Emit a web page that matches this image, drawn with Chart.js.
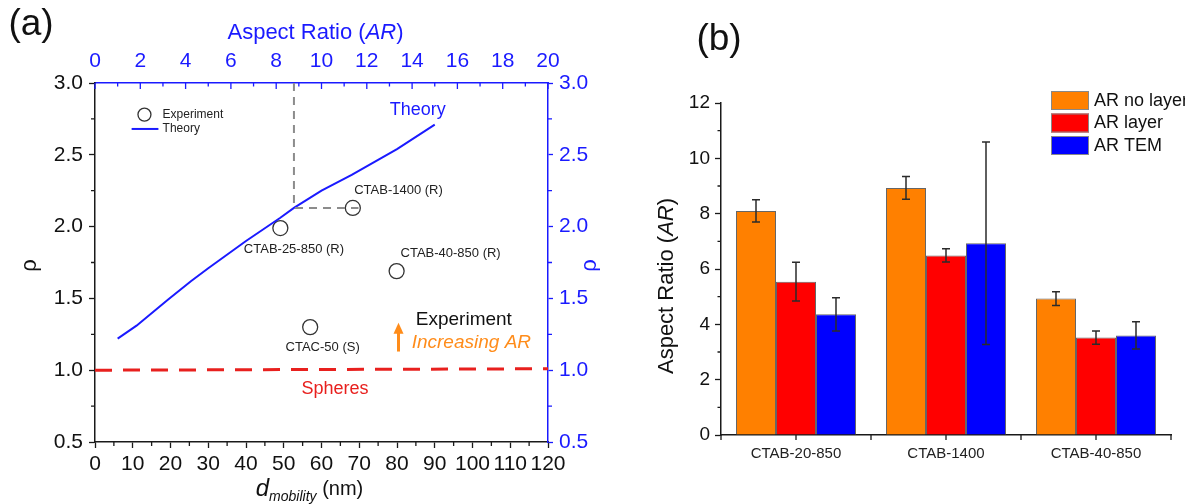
<!DOCTYPE html>
<html>
<head>
<meta charset="utf-8">
<script src="https://cdn.jsdelivr.net/npm/chart.js@4"></script>
<style>
  html, body { margin: 0; padding: 0; background: #fff; }
  #wrap { position: relative; width: 1185px; height: 504px; overflow: hidden; }
  canvas { position: absolute; top: 0; }
  #chartA { left: 0; }
  #chartB { left: 600px; }
</style>
</head>
<body>
<div id="wrap">
  <canvas id="chartA" width="600" height="504"></canvas>
  <canvas id="chartB" width="585" height="504"></canvas>
</div>
<script>
// ---- panel (a) data ----
const theoryD = [6, 11, 19.3, 25.4, 30, 40, 49, 52.7, 60, 68, 80, 90];
const theoryRho = [1.22, 1.31, 1.49, 1.62, 1.71, 1.9, 2.06, 2.13, 2.25, 2.36, 2.54, 2.71];
const expNames = ["CTAB-25-850 (R)", "CTAB-1400 (R)", "CTAB-40-850 (R)", "CTAC-50 (S)"];
const expD = [49.1, 68.3, 79.9, 57];
const expRho = [1.99, 2.13, 1.69, 1.3];
const sphereD = [0, 120];
const sphereRho = [1.0, 1.01];
const guideD = [52.7, 52.7, 69.8];
const guideRho = [3.0, 2.13, 2.13];
const arMin = 0, arMax = 20;

// ---- panel (b) data ----
const samples = ["CTAB-20-850", "CTAB-1400", "CTAB-40-850"];
const arNoLayer = [8.1, 8.93, 4.93];
const arNoLayerErr = [0.4, 0.41, 0.25];
const arLayer = [5.54, 6.49, 3.52];
const arLayerErr = [0.7, 0.24, 0.24];
const arTem = [4.36, 6.93, 3.6];
const arTemErr = [0.6, 3.66, 0.49];

const FONT = 'Arial, "Liberation Sans", Helvetica, sans-serif';
const BLUE = "#1a1aff";
const INK = "#1a1a1a";

function pts(xs, ys) { return xs.map((x, i) => ({ x: x, y: ys[i] })); }

function richText(ctx, parts, x, y, rot, align) {
  ctx.save();
  ctx.translate(x, y);
  if (rot) ctx.rotate(rot);
  let total = 0;
  parts.forEach(p => {
    ctx.font = (p.style || "") + " " + p.size + "px " + FONT;
    p.w = ctx.measureText(p.text).width;
    total += p.w;
  });
  let cx = align === "left" ? 0 : -total / 2;
  ctx.textBaseline = "middle";
  ctx.textAlign = "left";
  parts.forEach(p => {
    ctx.font = (p.style || "") + " " + p.size + "px " + FONT;
    ctx.fillStyle = p.color;
    ctx.fillText(p.text, cx, p.dy || 0);
    cx += p.w;
  });
  ctx.restore();
}

function tickMarks(ctx, scale, values, len, dir, color) {
  ctx.save();
  ctx.strokeStyle = color;
  ctx.lineWidth = 1.3;
  ctx.beginPath();
  values.forEach(v => {
    const p = scale.getPixelForValue(v);
    if (scale.isHorizontal()) {
      const y0 = scale.position === "bottom" ? scale.top : scale.bottom;
      ctx.moveTo(p, y0); ctx.lineTo(p, y0 + dir * len);
    } else {
      const x0 = scale.position === "left" ? scale.right : scale.left;
      ctx.moveTo(x0, p); ctx.lineTo(x0 + dir * len, p);
    }
  });
  ctx.stroke();
  ctx.restore();
}

function range(a, b, step) { const r = []; for (let v = a; v <= b + 1e-9; v += step) r.push(+v.toFixed(4)); return r; }

// labels placed in data space of panel (a)
const notesA = [
  { text: expNames[0], d: 52.7, rho: 1.84, size: 13, color: "#222" },
  { text: expNames[1], d: 80.4, rho: 2.25, size: 13, color: "#222" },
  { text: expNames[2], d: 94.2, rho: 1.81, size: 13, color: "#222" },
  { text: expNames[3], d: 60.3, rho: 1.16, size: 13, color: "#222" },
  { text: "Theory", d: 85.5, rho: 2.81, size: 18, color: BLUE },
  { text: "Spheres", d: 63.6, rho: 0.87, size: 18, color: "#e8201e" },
  { text: "Experiment", d: 97.7, rho: 1.35, size: 19, color: "#111" },
  { text: "Increasing AR", d: 99.7, rho: 1.19, size: 19, color: "#ff8c1a", style: "italic" }
];

const decorA = {
  id: "decorA",
  afterDraw(chart) {
    const ctx = chart.ctx;
    const sx = chart.scales.x, sy = chart.scales.y, st = chart.scales.xTop, sr = chart.scales.yRight;
    // minor ticks
    tickMarks(ctx, sx, range(5, 115, 10), 4, 1, INK);
    tickMarks(ctx, sy, range(0.75, 2.75, 0.5), 4, -1, INK);
    tickMarks(ctx, sr, range(0.75, 2.75, 0.5), 4, 1, BLUE);
    tickMarks(ctx, st, range(arMin, arMax, 2), 6, 1, BLUE);
    tickMarks(ctx, st, range(1, 19, 2), 3.5, 1, BLUE);

    // annotations
    notesA.forEach(n => {
      richText(ctx, [{ text: n.text, size: n.size, color: n.color, style: n.style }],
        sx.getPixelForValue(n.d), sy.getPixelForValue(n.rho));
    });

    // orange arrow
    const ax = sx.getPixelForValue(80.4);
    const y0 = sy.getPixelForValue(1.13), y1 = sy.getPixelForValue(1.33);
    ctx.save();
    ctx.strokeStyle = "#ff8c1a"; ctx.fillStyle = "#ff8c1a"; ctx.lineWidth = 3;
    ctx.beginPath(); ctx.moveTo(ax, y0); ctx.lineTo(ax, y1 + 8); ctx.stroke();
    ctx.beginPath(); ctx.moveTo(ax, y1); ctx.lineTo(ax - 5, y1 + 11); ctx.lineTo(ax + 5, y1 + 11); ctx.closePath(); ctx.fill();
    ctx.restore();

    // inset legend
    const lx = sx.getPixelForValue(13.1), ly = sy.getPixelForValue(2.78);
    ctx.save();
    ctx.strokeStyle = "#333"; ctx.lineWidth = 1.3;
    ctx.beginPath(); ctx.arc(lx, ly, 6.5, 0, Math.PI * 2); ctx.stroke();
    const ly2 = sy.getPixelForValue(2.68);
    ctx.strokeStyle = BLUE; ctx.lineWidth = 2;
    ctx.beginPath(); ctx.moveTo(sx.getPixelForValue(9.7), ly2); ctx.lineTo(sx.getPixelForValue(16.8), ly2); ctx.stroke();
    ctx.restore();
    const tx = sx.getPixelForValue(17.9);
    richText(ctx, [{ text: "Experiment", size: 12, color: "#222" }], tx, ly, 0, "left");
    richText(ctx, [{ text: "Theory", size: 12, color: "#222" }], tx, ly2, 0, "left");

    // axis titles
    const midX = (chart.chartArea.left + chart.chartArea.right) / 2;
    const midY = (chart.chartArea.top + chart.chartArea.bottom) / 2;
    richText(ctx, [
      { text: "Aspect Ratio (", size: 22, color: BLUE },
      { text: "AR", size: 22, color: BLUE, style: "italic" },
      { text: ")", size: 22, color: BLUE }
    ], midX - 6, 33);
    richText(ctx, [
      { text: "d", size: 24, color: "#111", style: "italic" },
      { text: "mobility", size: 14, color: "#111", style: "italic", dy: 8 },
      { text: " (nm)", size: 20, color: "#111" }
    ], midX - 12, 489);
    richText(ctx, [{ text: "ρ", size: 22, color: "#111" }], 30, midY + 3, -Math.PI / 2);
    richText(ctx, [{ text: "ρ", size: 22, color: BLUE }], 590, midY + 3, -Math.PI / 2);
    richText(ctx, [{ text: "(a)", size: 37, color: "#111" }], 31, 25);
  }
};

new Chart(document.getElementById("chartA"), {
  type: "scatter",
  data: {
    datasets: [
      {
        label: "Spheres",
        data: pts(sphereD, sphereRho),
        showLine: true, borderColor: "#e8201e", borderWidth: 3, borderDash: [17, 11],
        pointRadius: 0
      },
      {
        label: "Guide",
        data: pts(guideD, guideRho),
        showLine: true, borderColor: "#8c8c8c", borderWidth: 2, borderDash: [8, 6],
        pointRadius: 0
      },
      {
        label: "Theory",
        data: pts(theoryD, theoryRho),
        showLine: true, borderColor: BLUE, borderWidth: 2, pointRadius: 0, tension: 0
      },
      {
        label: "Experiment",
        data: pts(expD, expRho),
        showLine: false, pointStyle: "circle", pointRadius: 7.5, borderColor: "#333",
        backgroundColor: "rgba(0,0,0,0)", pointBorderWidth: 1.3
      }
    ]
  },
  options: {
    responsive: false,
    animation: false,
    events: [],
    layout: { padding: 0 },
    plugins: { legend: { display: false }, tooltip: { enabled: false } },
    scales: {
      x: {
        type: "linear", position: "bottom", min: 0, max: 120,
        ticks: { stepSize: 10, autoSkip: false, maxRotation: 0, color: "#111", padding: 4, font: { family: FONT, size: 21 } },
        grid: { drawOnChartArea: false, tickLength: 6, color: INK, tickWidth: 1.3 },
        border: { color: INK, width: 1.5 },
        afterFit: s => { s.height = 62; }
      },
      xTop: {
        type: "linear", position: "top", min: arMin, max: arMax,
        ticks: { stepSize: 2, autoSkip: false, maxRotation: 0, color: BLUE, padding: 9, font: { family: FONT, size: 21 } },
        grid: { drawOnChartArea: false, drawTicks: false, color: BLUE },
        border: { color: BLUE, width: 1.5 },
        afterFit: s => { s.height = 83; }
      },
      y: {
        type: "linear", position: "left", min: 0.5, max: 3.0,
        ticks: { stepSize: 0.5, color: "#111", padding: 6, font: { family: FONT, size: 21 }, callback: v => v.toFixed(1) },
        grid: { drawOnChartArea: false, tickLength: 6, color: INK, tickWidth: 1.3 },
        border: { color: INK, width: 1.5 },
        afterFit: s => { s.width = 95; }
      },
      yRight: {
        type: "linear", position: "right", min: 0.5, max: 3.0,
        ticks: { stepSize: 0.5, color: BLUE, padding: 6, font: { family: FONT, size: 21 }, callback: v => v.toFixed(1) },
        grid: { drawOnChartArea: false, tickLength: 5, color: BLUE, tickWidth: 1.3 },
        border: { color: BLUE, width: 1.5 },
        afterFit: s => { s.width = 52; }
      }
    }
  },
  plugins: [decorA]
});

// ---- panel (b) ----
const barColors = ["#ff8000", "#ff0000", "#0000ff"];
const barNames = ["AR no layer", "AR layer", "AR TEM"];
const errSets = [arNoLayerErr, arLayerErr, arTemErr];

const decorB = {
  id: "decorB",
  afterDatasetsDraw(chart) {
    const ctx = chart.ctx;
    const sy = chart.scales.y;
    ctx.save();
    ctx.strokeStyle = "#2b2b2b";
    ctx.lineWidth = 1.5;
    chart.data.datasets.forEach((ds, i) => {
      const meta = chart.getDatasetMeta(i);
      meta.data.forEach((bar, j) => {
        const v = ds.data[j], e = errSets[i][j];
        const yt = sy.getPixelForValue(v + e), yb = sy.getPixelForValue(v - e);
        ctx.beginPath();
        ctx.moveTo(bar.x, yt); ctx.lineTo(bar.x, yb);
        ctx.moveTo(bar.x - 4, yt); ctx.lineTo(bar.x + 4, yt);
        ctx.moveTo(bar.x - 4, yb); ctx.lineTo(bar.x + 4, yb);
        ctx.stroke();
      });
    });
    ctx.restore();
  },
  afterDraw(chart) {
    const ctx = chart.ctx;
    const sx = chart.scales.x, sy = chart.scales.y;
    const ca = chart.chartArea;
    // minor y ticks
    tickMarks(ctx, sy, range(1, 11, 2), 3.5, -1, INK);
    // x ticks at centres and at category bounds
    const n = samples.length;
    const w = (ca.right - ca.left) / n;
    ctx.save();
    ctx.strokeStyle = INK; ctx.lineWidth = 1.3;
    ctx.beginPath();
    for (let k = 0; k <= n; k++) {
      const xb = ca.left + k * w;
      ctx.moveTo(xb, ca.bottom); ctx.lineTo(xb, ca.bottom + 5);
      if (k < n) {
        const xc = sx.getPixelForValue(k);
        ctx.moveTo(xc, ca.bottom); ctx.lineTo(xc, ca.bottom + 5);
      }
    }
    ctx.stroke();
    ctx.restore();

    // legend
    const lx = ca.right - 120, ly = ca.top - 12;
    barColors.forEach((c, i) => {
      const top = ly + i * 22.5;
      ctx.save();
      ctx.fillStyle = c; ctx.strokeStyle = "#888"; ctx.lineWidth = 1;
      ctx.fillRect(lx, top, 38, 19);
      ctx.strokeRect(lx + 0.5, top + 0.5, 37, 18);
      ctx.restore();
      richText(ctx, [{ text: barNames[i], size: 18, color: "#111" }], lx + 43, top + 10, 0, "left");
    });

    // titles
    const midY = (ca.top + ca.bottom) / 2;
    richText(ctx, [
      { text: "Aspect Ratio (", size: 22, color: "#111" },
      { text: "AR", size: 22, color: "#111", style: "italic" },
      { text: ")", size: 22, color: "#111" }
    ], 67, midY + 17, -Math.PI / 2);
    richText(ctx, [{ text: "(b)", size: 37, color: "#111" }], 119, 40);
  }
};

new Chart(document.getElementById("chartB"), {
  type: "bar",
  data: {
    labels: samples,
    datasets: [
      { label: barNames[0], data: arNoLayer, backgroundColor: barColors[0] },
      { label: barNames[1], data: arLayer, backgroundColor: barColors[1] },
      { label: barNames[2], data: arTem, backgroundColor: barColors[2] }
    ]
  },
  options: {
    responsive: false,
    animation: false,
    events: [],
    layout: { padding: { top: 103, right: 14, left: 0, bottom: 0 } },
    datasets: { bar: { categoryPercentage: 0.8, barPercentage: 1.0, borderColor: "#666", borderWidth: 1 } },
    plugins: { legend: { display: false }, tooltip: { enabled: false } },
    scales: {
      x: {
        ticks: { color: "#222", padding: 2, font: { family: FONT, size: 15 } },
        grid: { display: false },
        border: { color: INK, width: 1.5 },
        afterFit: s => { s.height = 69; }
      },
      y: {
        min: 0, max: 12,
        ticks: { stepSize: 2, color: "#111", padding: 5, font: { family: FONT, size: 19 } },
        grid: { drawOnChartArea: false, tickLength: 6, color: INK, tickWidth: 1.3 },
        border: { color: INK, width: 1.5 },
        afterFit: s => { s.width = 121; }
      }
    }
  },
  plugins: [decorB]
});
</script>
</body>
</html>
